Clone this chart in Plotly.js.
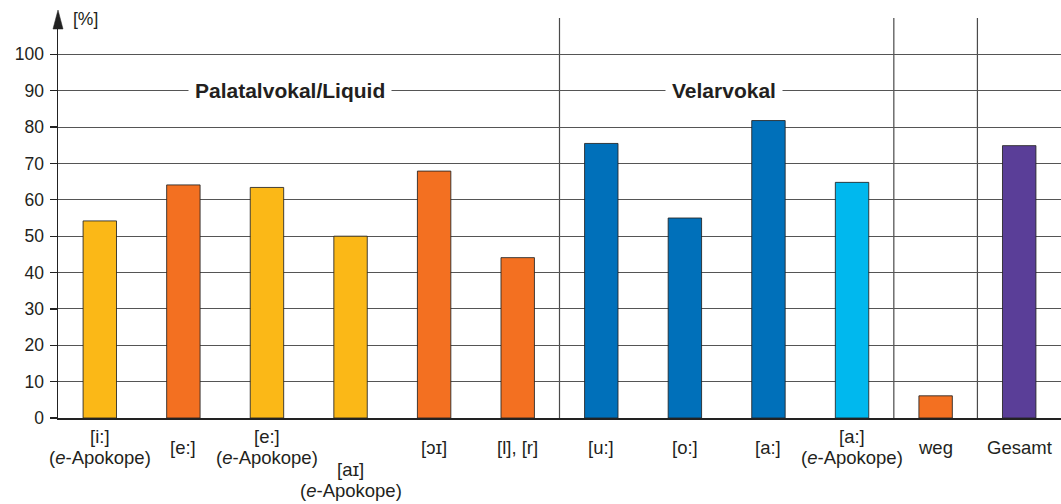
<!DOCTYPE html>
<html>
<head>
<meta charset="utf-8">
<script src="https://cdn.plot.ly/plotly-3.0.1.min.js"></script>
<style>
html,body{margin:0;padding:0;background:#fff;}
#chart{width:1061px;height:504px;}
</style>
</head>
<body>
<div id="chart"></div>
<script>
// ---- data ----
const categories = ['[i:] (e-Apokope)', '[e:]', '[e:] (e-Apokope)', '[aɪ] (e-Apokope)', '[ɔɪ]', '[l], [r]',
                    '[u:]', '[o:]', '[a:]', '[a:] (e-Apokope)', 'weg', 'Gesamt'];
const values = [54.2, 64.1, 63.4, 50.0, 67.9, 44.1, 75.5, 55.0, 81.8, 64.8, 6.1, 74.9];
const tickLabels = ['[i:]<br>(<i>e</i>-Apokope)', '[e:]', '[e:]<br>(<i>e</i>-Apokope)', '[aɪ]<br>(<i>e</i>-Apokope)',
                    '[ɔɪ]', '[l], [r]', '[u:]', '[o:]', '[a:]', '[a:]<br>(<i>e</i>-Apokope)', 'weg', 'Gesamt'];
const yTicks = [0, 10, 20, 30, 40, 50, 60, 70, 80, 90, 100];
const groupLabels = ['Palatalvokal/Liquid', 'Velarvokal'];
const yUnit = '[%]';

// ---- styles ----
const barColors = ['#FBB817', '#F37021', '#FBB817', '#FBB817', '#F37021', '#F37021',
                   '#0070BA', '#0070BA', '#0070BA', '#00B8EE', '#F37021', '#5A3E98'];
const dropped = [false, false, false, true, false, false, false, false, false, false, false, false];
const separators = [5.5, 9.5, 10.5];
const groupPos = [2.27, 7.47];
const FONT = 'Liberation Sans, Arial, Helvetica, sans-serif';
const TXT = '#231f20';
const PLOT_H = 400;       // plot area height in px
const LINE_GAP = 21;      // px between label lines

const trace = {
  type: 'bar',
  x: categories,
  y: values,
  width: 0.4,
  marker: {color: barColors, line: {color: 'rgba(35,35,35,0.85)', width: 1}},
  hoverinfo: 'x+y'
};

const annotations = [];
categories.forEach((c, i) => {
  const lines = tickLabels[i].split('<br>');
  const centerPx = dropped[i] ? 480 - 418 : 447 - 418;   // px below the axis
  lines.forEach((ln, k) => {
    const offPx = centerPx + (k - (lines.length - 1) / 2) * LINE_GAP;
    annotations.push({
      x: c, xref: 'x', y: -offPx / PLOT_H, yref: 'paper',
      text: ln, showarrow: false, xanchor: 'center', yanchor: 'middle',
      align: 'center', font: {family: FONT, size: 18.5, color: TXT}
    });
  });
});
groupLabels.forEach((g, i) => {
  annotations.push({
    x: groupPos[i], xref: 'x', y: 90, yref: 'y', text: '<b>' + g + '</b>',
    showarrow: false, xanchor: 'center', yanchor: 'middle',
    bgcolor: '#ffffff', borderpad: 6, font: {family: FONT, size: 21, color: TXT}
  });
});
annotations.push({
  x: 0.013, xref: 'paper', y: 0.9975, yref: 'paper', text: yUnit, showarrow: false,
  xanchor: 'left', yanchor: 'middle', font: {family: FONT, size: 17.5, color: TXT}
});

const shapes = separators.map(s => ({
  type: 'line', xref: 'x', yref: 'paper', x0: s, x1: s, y0: 0, y1: 1,
  line: {color: '#4a4a4a', width: 1.2}, layer: 'below'
}));
shapes.push({type: 'line', xref: 'paper', yref: 'paper', x0: 0, x1: 0, y0: 0.99, y1: 1.0,
  line: {color: '#222', width: 1.5}});
shapes.push({type: 'path', xref: 'paper', yref: 'paper',
  path: 'M 0 1.02 L -0.005 0.9725 L 0.005 0.9725 Z',
  fillcolor: '#222', line: {color: '#222', width: 0.5}});

const layout = {
  width: 1061, height: 504,
  margin: {l: 58, r: 0, t: 18, b: 86},
  paper_bgcolor: '#fff', plot_bgcolor: '#fff',
  showlegend: false, bargap: 0.6,
  font: {family: FONT, size: 17, color: TXT},
  xaxis: {
    type: 'category', range: [-0.5, 11.5], showticklabels: false, ticks: '',
    showgrid: false, showline: true, linecolor: '#222', linewidth: 1.5, fixedrange: true
  },
  yaxis: {
    range: [0, 110], tickvals: yTicks, ticks: 'outside', ticklen: 7, tickcolor: '#222', tickwidth: 1.2,
    showgrid: true, gridcolor: '#555', gridwidth: 1, zeroline: false,
    showline: true, linecolor: '#222', linewidth: 1.5, ticklabelstandoff: 2,
    tickfont: {family: FONT, size: 17.5, color: TXT}, fixedrange: true
  },
  annotations: annotations,
  shapes: shapes
};

Plotly.newPlot('chart', [trace], layout, {displayModeBar: false, staticPlot: true});
</script>
</body>
</html>
